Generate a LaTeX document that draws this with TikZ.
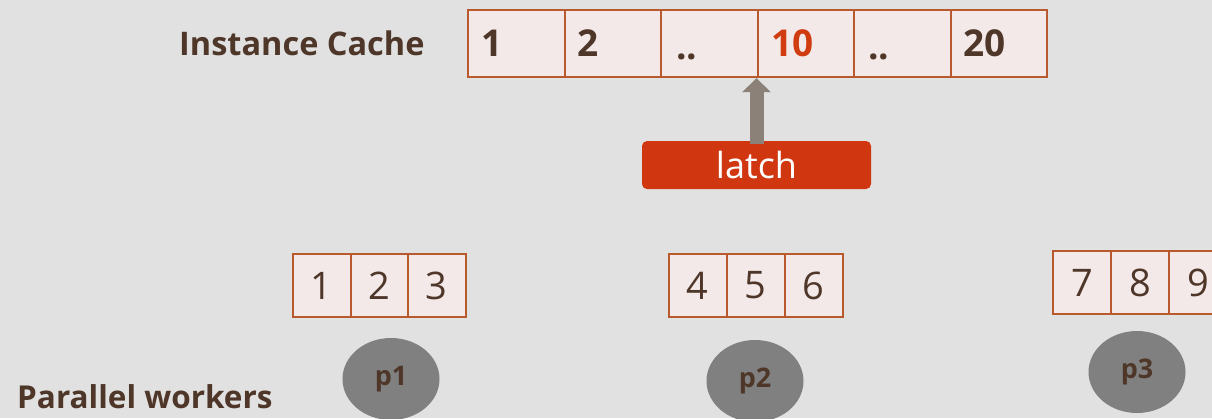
\documentclass[tikz,border=0pt]{standalone}
\usepackage{fontspec}
\setmainfont{Open Sans}
\usetikzlibrary{arrows.meta,shapes.geometric}
\definecolor{bg}{HTML}{E0E1E0}
\definecolor{cellfill}{HTML}{F3E9E8}
\definecolor{celldraw}{HTML}{B95A2E}
\definecolor{txt}{HTML}{4E3629}
\definecolor{redtxt}{HTML}{D03C10}
\definecolor{latchred}{HTML}{D03710}
\definecolor{arrowgray}{HTML}{8B8178}
\definecolor{ellgray}{HTML}{808080}
\tikzset{
  bigcell/.style={draw=celldraw,fill=cellfill,line width=2.2pt,minimum width=96.5pt,minimum height=67pt,inner sep=0pt,anchor=north west},
  smallcell/.style={draw=celldraw,fill=cellfill,line width=2.2pt,minimum width=57.5pt,minimum height=63pt,inner sep=0pt,anchor=north west,font=\fontsize{38}{40}\selectfont,text=txt},
  bigdig/.style={anchor=base west,inner sep=0pt,font=\fontsize{37}{40}\selectfont\bfseries,text=txt},
  title/.style={anchor=base west,inner sep=0pt,text=txt,font=\bfseries},
  worker/.style={ellipse,fill=ellgray,minimum width=97pt,minimum height=82pt,inner sep=0pt,text=txt,font=\fontsize{27}{29}\selectfont\bfseries},
  latchbox/.style={fill=latchred,rounded corners=5pt,minimum width=229pt,minimum height=48pt,inner sep=0pt,text=white,font=\fontsize{36}{38}\selectfont},
}
\begin{document}
\begin{tikzpicture}[x=1pt,y=-1pt]
\useasboundingbox[fill=bg] (0,0) rectangle (1212,418);
% titles
\node[title,font=\fontsize{32.5}{36}\selectfont\bfseries] (ic) at (179,55) {Instance Cache};
\node[title,font=\fontsize{31.5}{33}\selectfont\bfseries] (pw) at (17,408) {Parallel workers};
% instance cache
\node[bigcell] (c1) at (467,9) {};
\node[bigcell] (c2) at (563.5,9) {};
\node[bigcell] (c3) at (660,9) {};
\node[bigcell] (c4) at (756.5,9) {};
\node[bigcell] (c5) at (853,9) {};
\node[bigcell] (c6) at (949.5,9) {};
\node[bigdig] (t1) at (481,56) {1};
\node[bigdig] (t2) at (577,56) {2};
\node[bigdig] (t3) at (676,59) {..};
\node[bigdig,text=redtxt] (t4) at (771,56) {10};
\node[bigdig] (t5) at (868,59) {..};
\node[bigdig] (t6) at (963,56) {20};
% latch
\node[latchbox] (latch) at (756.5,165) {latch};
\draw[arrowgray,line width=14pt,-{Triangle[width=28pt,length=14pt]}] ([yshift=-3pt]latch.north) -- (c4.south west);
% worker arrays
\node[smallcell] (a1) at (292,253) {1};
\node[smallcell] (a2) at (349.5,253) {2};
\node[smallcell] (a3) at (407,253) {3};
\node[smallcell] (b1) at (668,253) {4};
\node[smallcell] (b2) at (726,253) {5};
\node[smallcell] (b3) at (784,253) {6};
\node[smallcell] (d1) at (1052,250) {7};
\node[smallcell] (d2) at (1110,250) {8};
\node[smallcell] (d3) at (1168,250) {9};
% workers
\node[worker] (p1) at (391,379) {p1};
\node[worker] (p2) at (755,381) {p2};
\node[worker] (p3) at (1137,372) {p3};
\end{tikzpicture}
\end{document}
